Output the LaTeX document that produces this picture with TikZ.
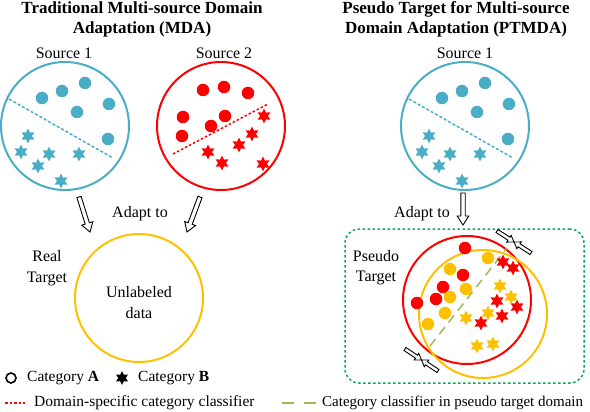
\documentclass[tikz,border=0pt]{standalone}
\usepackage{fontspec}
\setmainfont{Liberation Serif}
\usetikzlibrary{shapes.geometric}
\definecolor{tealc}{HTML}{4BACC6}
\definecolor{redc}{HTML}{FF0000}
\definecolor{yelc}{HTML}{FFC000}
\definecolor{grnc}{HTML}{00B050}
\definecolor{lgrnc}{HTML}{9BBB59}
\begin{document}
\begin{tikzpicture}[x=1pt,y=-1pt,
  font=\fontsize{16}{20}\selectfont,
  domcirc/.style={circle, draw, line width=2pt, minimum size=128pt, inner sep=0pt},
  dotpt/.style={circle, fill, minimum size=12.5pt, inner sep=0pt},
  starpt/.style={star, star points=6, star point ratio=1.9, fill, minimum size=15pt, inner sep=0pt},
  clsline/.style={line width=1.5pt, dash pattern=on 3pt off 2pt},
  ttl/.style={font=\fontsize{17}{19.5}\selectfont\bfseries, align=center},
  lbl/.style={align=center, font=\fontsize{16}{20.5}\selectfont},
  legtxt/.style={anchor=west, inner sep=0pt, font=\fontsize{15.5}{18}\selectfont},
  harrow/.pic={\draw[line width=0.9pt, fill=white, line join=miter]
     (0,-2.2) -- ({#1-9},-2.2) -- ({#1-9},-5.8) -- (#1,0) -- ({#1-9},5.8) -- ({#1-9},2.2) -- (0,2.2) -- cycle;},
  sarrow/.pic={\draw[line width=0.9pt, fill=white, line join=miter]
     (0,-1.8) -- ({#1-6},-1.8) -- ({#1-6},-4) -- (#1,0) -- ({#1-6},4) -- ({#1-6},1.8) -- (0,1.8) -- cycle;},
]
\useasboundingbox (0,0) rectangle (590,412);

% titles
\node[ttl] (t1) at (142,19.5) {Traditional Multi-source Domain\\Adaptation (MDA)};
\node[ttl] (t2) at (456,19.5) {Pseudo Target for Multi-source\\Domain Adaptation (PTMDA)};

% ---------- left panel: Source 1
\node[lbl] (s1l) at (64,53) {Source 1};
\node[domcirc, draw=tealc] (s1) at (65,126) {};
\draw[tealc, clsline] (9,99) -- (113,158);
\foreach \x/\y [count=\i] in {42/98,62/91,85/83,77/112,109/104,108/139}
  \node[dotpt, fill=tealc] (s1d\i) at (\x,\y) {};
\foreach \x/\y [count=\i] in {28/136,21/152,49/154,79/154,38/166,61/181}
  \node[starpt, fill=tealc] (s1s\i) at (\x,\y) {};

% ---------- left panel: Source 2
\node[lbl] (s2l) at (224,53) {Source 2};
\node[domcirc, draw=redc] (s2) at (221,126) {};
\draw[redc, clsline, dash pattern=on 2.5pt off 2pt] (173,154) -- (268,104);
\foreach \x/\y [count=\i] in {203/90,224/87,248/93,183/117,225/116,211/126,182/136}
  \node[dotpt, fill=redc] (s2d\i) at (\x,\y) {};
\foreach \x/\y [count=\i] in {264/116,252/134,239/145,208/152,222/163,263/164}
  \node[starpt, fill=redc] (s2s\i) at (\x,\y) {};

% ---------- real target
\node[domcirc, draw=yelc] (rt) at (139,298) {};
\node[lbl, font=\fontsize{16}{21}\selectfont] (rtt) at (139,302.5) {Unlabeled\\data};
\node[lbl] (rtl) at (47,268) {Real\\Target};
\node[lbl] (ad1) at (140,214) {Adapt to};
\coordinate (a1s) at (79,197); \coordinate (a1e) at (90,232);
\coordinate (a2s) at (200,197); \coordinate (a2e) at (187,232);
\path (a1s) -- (a1e) pic[pos=0, sloped, allow upside down] {harrow=36.7};
\path (a2s) -- (a2e) pic[pos=0, sloped, allow upside down] {harrow=37.3};

% ---------- right panel: Source 1
\node[lbl] (r1l) at (465,53) {Source 1};
\node[domcirc, draw=tealc] (r1) at (465,126) {};
\draw[tealc, clsline] (409,99) -- (513,158);
\foreach \x/\y [count=\i] in {42/98,62/91,85/83,77/112,109/104,108/139}
  \node[dotpt, fill=tealc] (r1d\i) at (\x+400,\y) {};
\foreach \x/\y [count=\i] in {28/136,21/152,49/154,79/154,38/166,61/181}
  \node[starpt, fill=tealc] (r1s\i) at (\x+401,\y) {};

\node[lbl] (ad2) at (422,214) {Adapt to};
\coordinate (a3s) at (463,193); \coordinate (a3e) at (463,225);
\path (a3s) -- (a3e) pic[pos=0, sloped, allow upside down] {harrow=32};

% ---------- pseudo target box
\node[draw=grnc, line width=1.5pt, dash pattern=on 2.5pt off 2.5pt, rounded corners=14pt,
      minimum width=239pt, minimum height=154pt, inner sep=0pt] (ptbox) at (464.5,306) {};
\node[lbl] (ptl) at (376,267.5) {Pseudo\\Target};
\node[domcirc, draw=redc] (pr) at (467,300) {};
\node[domcirc, draw=yelc] (py) at (483,314) {};
\draw[lgrnc, line width=1.5pt, dash pattern=on 9pt off 6pt] (430,346) -- (507,248);
\foreach \x/\y [count=\i] in {465/248,463/275,443/287,436/299,417/303}
  \node[dotpt, fill=redc] (prd\i) at (\x,\y) {};
\foreach \x/\y [count=\i] in {488/258,450/269,466/289,450/297,445/313,428/324}
  \node[dotpt, fill=yelc] (pyd\i) at (\x,\y) {};
\foreach \x/\y [count=\i] in {503/262,513/268,497/301,517/307,502/316,481/323}
  \node[starpt, fill=redc] (prs\i) at (\x,\y) {};
\foreach \x/\y [count=\i] in {500/286,511/297,488/313,466/318,477/346,493/344}
  \node[starpt, fill=yelc] (pys\i) at (\x,\y) {};

% squeeze arrows
\coordinate (tA) at (497,231); \coordinate (tM) at (514,242); \coordinate (tB) at (531,253);
\path (tA) -- (tM) pic[pos=0, sloped, allow upside down] {sarrow=20.2};
\path (tB) -- (tM) pic[pos=0, sloped, allow upside down] {sarrow=20.2};
\coordinate (bA) at (405,349); \coordinate (bM) at (421.5,360); \coordinate (bB) at (438,371);
\path (bA) -- (bM) pic[pos=0, sloped, allow upside down] {sarrow=19.8};
\path (bB) -- (bM) pic[pos=0, sloped, allow upside down] {sarrow=19.8};

% ---------- legend
\node[circle, draw, line width=1.6pt, minimum size=10pt, inner sep=0pt] (legA) at (11,378) {};
\node[legtxt] (legAt) at (27,378) {Category \textbf{A}};
\node[starpt, fill=black, minimum size=14pt] (legB) at (122,378) {};
\node[legtxt] (legBt) at (138,378) {Category \textbf{B}};
\coordinate (l1s) at (5,403); \coordinate (l1e) at (25,403);
\draw[redc, line width=1.5pt, dash pattern=on 2.5pt off 2pt] (l1s) -- (l1e);
\node[legtxt] (l1t) at (34,403) {Domain-specific category classifier};
\coordinate (l2s) at (282,403); \coordinate (l2e) at (316,403);
\draw[lgrnc, line width=1.5pt, dash pattern=on 12pt off 10pt] (l2s) -- (l2e);
\node[legtxt, font=\fontsize{15}{18}\selectfont] (l2t) at (322,403) {Category classifier in pseudo target domain};
\end{tikzpicture}
\end{document}
